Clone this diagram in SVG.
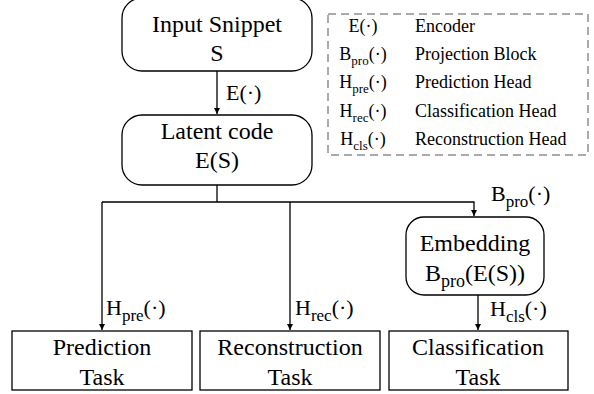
<svg xmlns="http://www.w3.org/2000/svg" width="594" height="394" viewBox="0 0 594 394">
<defs>
<marker id="ah" markerWidth="8" markerHeight="8" refX="6" refY="3" orient="auto" markerUnits="userSpaceOnUse">
<path d="M0,0 L6,3 L0,6 Z" fill="#000"/>
</marker>
</defs>
<rect width="594" height="394" fill="#fff"/>
<g id="legend">
<rect x="328" y="14" width="260" height="141" fill="none" stroke="#aaa" stroke-width="2" stroke-dasharray="8,5"/>
<text x="363" y="32" font-family="Liberation Serif" font-size="18" text-anchor="middle">E(·)</text>
<text x="363" y="60" font-family="Liberation Serif" font-size="18" text-anchor="middle">B<tspan dy="5" font-size="13">pro</tspan><tspan dy="-5">(·)</tspan></text>
<text x="363" y="88" font-family="Liberation Serif" font-size="18" text-anchor="middle">H<tspan dy="5" font-size="13">pre</tspan><tspan dy="-5">(·)</tspan></text>
<text x="363" y="117" font-family="Liberation Serif" font-size="18" text-anchor="middle">H<tspan dy="5" font-size="13">rec</tspan><tspan dy="-5">(·)</tspan></text>
<text x="363" y="145" font-family="Liberation Serif" font-size="18" text-anchor="middle">H<tspan dy="5" font-size="13">cls</tspan><tspan dy="-5">(·)</tspan></text>
<text x="415" y="32" font-family="Liberation Serif" font-size="18">Encoder</text>
<text x="415" y="60" font-family="Liberation Serif" font-size="18">Projection Block</text>
<text x="415" y="88" font-family="Liberation Serif" font-size="18">Prediction Head</text>
<text x="415" y="117" font-family="Liberation Serif" font-size="18">Classification Head</text>
<text x="415" y="145" font-family="Liberation Serif" font-size="18">Reconstruction Head</text>
</g>
<g id="connectors">
<line x1="217" y1="71" x2="217" y2="114" fill="none" stroke="#000" stroke-width="1.3" marker-end="url(#ah)"/>
<polyline points="217,185 217,202" fill="none" stroke="#000" stroke-width="1.3"/>
<polyline points="102,202 474,202 474,216" fill="none" stroke="#000" stroke-width="1.3" marker-end="url(#ah)"/>
<polyline points="102,202 102,330" fill="none" stroke="#000" stroke-width="1.3" marker-end="url(#ah)"/>
<polyline points="290,202 290,330" fill="none" stroke="#000" stroke-width="1.3" marker-end="url(#ah)"/>
<line x1="478" y1="295" x2="478" y2="330" fill="none" stroke="#000" stroke-width="1.3" marker-end="url(#ah)"/>
<text x="226" y="100" font-family="Liberation Serif" font-size="22">E(·)</text>
<text x="491" y="201" font-family="Liberation Serif" font-size="22">B<tspan dy="6" font-size="17">pro</tspan><tspan dy="-6">(·)</tspan></text>
<text x="106" y="315" font-family="Liberation Serif" font-size="22">H<tspan dy="6" font-size="17">pre</tspan><tspan dy="-6">(·)</tspan></text>
<text x="295" y="315" font-family="Liberation Serif" font-size="22">H<tspan dy="6" font-size="17">rec</tspan><tspan dy="-6">(·)</tspan></text>
<text x="490" y="316" font-family="Liberation Serif" font-size="22">H<tspan dy="6" font-size="17">cls</tspan><tspan dy="-6">(·)</tspan></text>
</g>
<g id="input">
<rect x="122" y="-2" width="190" height="73" rx="20" fill="#fff" stroke="#000" stroke-width="1.3"/>
<text x="217" y="32" font-family="Liberation Serif" font-size="24" text-anchor="middle">Input Snippet</text>
<text x="217" y="61" font-family="Liberation Serif" font-size="24" text-anchor="middle">S</text>
</g>
<g id="latent">
<rect x="122" y="115" width="190" height="70" rx="20" fill="#fff" stroke="#000" stroke-width="1.3"/>
<text x="217" y="139" font-family="Liberation Serif" font-size="24" text-anchor="middle">Latent code</text>
<text x="217" y="168" font-family="Liberation Serif" font-size="24" text-anchor="middle">E(S)</text>
</g>
<g id="embedding">
<rect x="406" y="217" width="138" height="78" rx="18" fill="#fff" stroke="#000" stroke-width="1.3"/>
<text x="475" y="251" font-family="Liberation Serif" font-size="24" text-anchor="middle">Embedding</text>
<text x="475" y="281" font-family="Liberation Serif" font-size="24" text-anchor="middle">B<tspan dy="6" font-size="18">pro</tspan><tspan dy="-6">(E(S))</tspan></text>
</g>
<g id="prediction">
<rect x="12" y="331" width="180" height="59" fill="#fff" stroke="#000" stroke-width="1.3"/>
<text x="102" y="355" font-family="Liberation Serif" font-size="24" text-anchor="middle">Prediction</text>
<text x="102" y="385" font-family="Liberation Serif" font-size="24" text-anchor="middle">Task</text>
</g>
<g id="reconstruction">
<rect x="200" y="331" width="180" height="59" fill="#fff" stroke="#000" stroke-width="1.3"/>
<text x="290" y="355" font-family="Liberation Serif" font-size="24" text-anchor="middle">Reconstruction</text>
<text x="290" y="385" font-family="Liberation Serif" font-size="24" text-anchor="middle">Task</text>
</g>
<g id="classification">
<rect x="389" y="331" width="179" height="59" fill="#fff" stroke="#000" stroke-width="1.3"/>
<text x="478" y="355" font-family="Liberation Serif" font-size="24" text-anchor="middle">Classification</text>
<text x="478" y="385" font-family="Liberation Serif" font-size="24" text-anchor="middle">Task</text>
</g>
</svg>
